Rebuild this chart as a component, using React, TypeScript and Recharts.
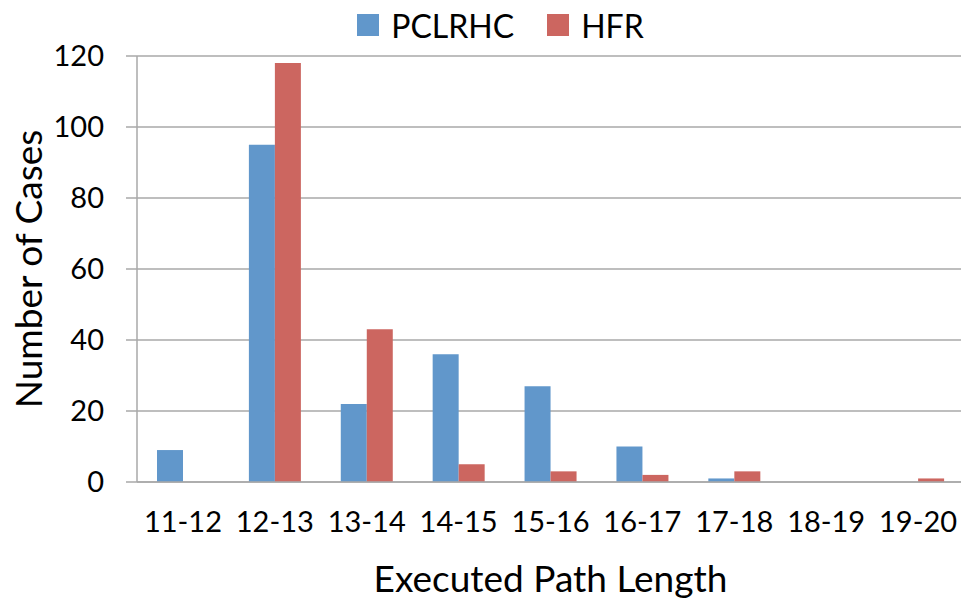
import React from 'react';
import { BarChart, Bar, XAxis, YAxis, CartesianGrid, Legend, Label } from 'recharts';

const categories = ['11-12', '12-13', '13-14', '14-15', '15-16', '16-17', '17-18', '18-19', '19-20'];
const pclrhcValues = [9, 95, 22, 36, 27, 10, 1, 0, 0];
const hfrValues = [0, 118, 43, 5, 3, 2, 3, 0, 1];
const yTicks = [0, 20, 40, 60, 80, 100, 120];

const data = categories.map((c, i) => ({ name: c, PCLRHC: pclrhcValues[i], HFR: hfrValues[i] }));

const BLUE = '#6197CB';
const RED = '#CC6660';
const GRID = '#A8A8A8';
const FONT = 'Lato, "Open Sans", sans-serif';

const LegendContent = () => (
  <div style={{ width: 961, height: 0, position: 'relative' }}>
    <div
      style={{
        position: 'absolute',
        top: 5,
        left: 0,
        width: 961,
        paddingLeft: 40,
        boxSizing: 'border-box',
        display: 'flex',
        justifyContent: 'center',
        alignItems: 'center',
        fontFamily: FONT,
        fontSize: 32,
        color: '#000',
        height: 40,
      }}
    >
      <span style={{ width: 22, height: 22, background: BLUE, display: 'inline-block', marginRight: 12 }} />
      <span style={{ marginRight: 33 }}>PCLRHC</span>
      <span style={{ width: 22, height: 22, background: RED, display: 'inline-block', marginRight: 12 }} />
      <span>HFR</span>
    </div>
  </div>
);

const YTitle = (props: any) => {
  const vb = props.viewBox || { x: 0, y: 0, width: 0, height: 0 };
  const cx = vb.x + 42;
  const cy = vb.y + vb.height / 2;
  return (
    <text
      x={cx}
      y={cy}
      transform={`rotate(-90, ${cx}, ${cy})`}
      textAnchor="middle"
      fontFamily={FONT}
      fontSize={37}
      fill="#000"
    >
      Number of Cases
    </text>
  );
};

export default function App() {
  return (
    <div style={{ position: 'absolute', left: 0, top: 0, width: 961, height: 600, overflow: 'hidden', background: '#fff' }}>
      <BarChart
        width={964}
        height={600}
        data={data}
        margin={{ top: 56, right: 0, bottom: 0, left: 0 }}
        barGap={0}
        barSize={26}
      >
        <CartesianGrid horizontal vertical={false} stroke={GRID} strokeWidth={1.5} />
        <XAxis
          dataKey="name"
          height={118}
          axisLine={{ stroke: GRID, strokeWidth: 1.5 }}
          tickLine={false}
          tickSize={0}
          tickMargin={29}
          tick={{ fill: '#000', fontSize: 29, fontFamily: FONT }}
          interval={0}
        >
          <Label
            value="Executed Path Length"
            position="insideBottom"
            offset={8}
            style={{ fontFamily: FONT, fontSize: 37, fill: '#000' }}
          />
        </XAxis>
        <YAxis
          width={137}
          domain={[0, 120]}
          ticks={yTicks}
          interval={0}
          axisLine={{ stroke: GRID, strokeWidth: 1.5 }}
          tickLine={{ stroke: GRID, strokeWidth: 1.5 }}
          tickSize={11}
          tickMargin={22}
          tick={{ fill: '#000', fontSize: 29, fontFamily: FONT }}
          label={<YTitle />}
        />
        <Legend
          verticalAlign="top"
          content={<LegendContent />}
          wrapperStyle={{ top: 0, left: 0, width: 961, height: 0 }}
        />
        <Bar dataKey="PCLRHC" fill={BLUE} isAnimationActive={false} />
        <Bar dataKey="HFR" fill={RED} isAnimationActive={false} />
      </BarChart>
    </div>
  );
}
